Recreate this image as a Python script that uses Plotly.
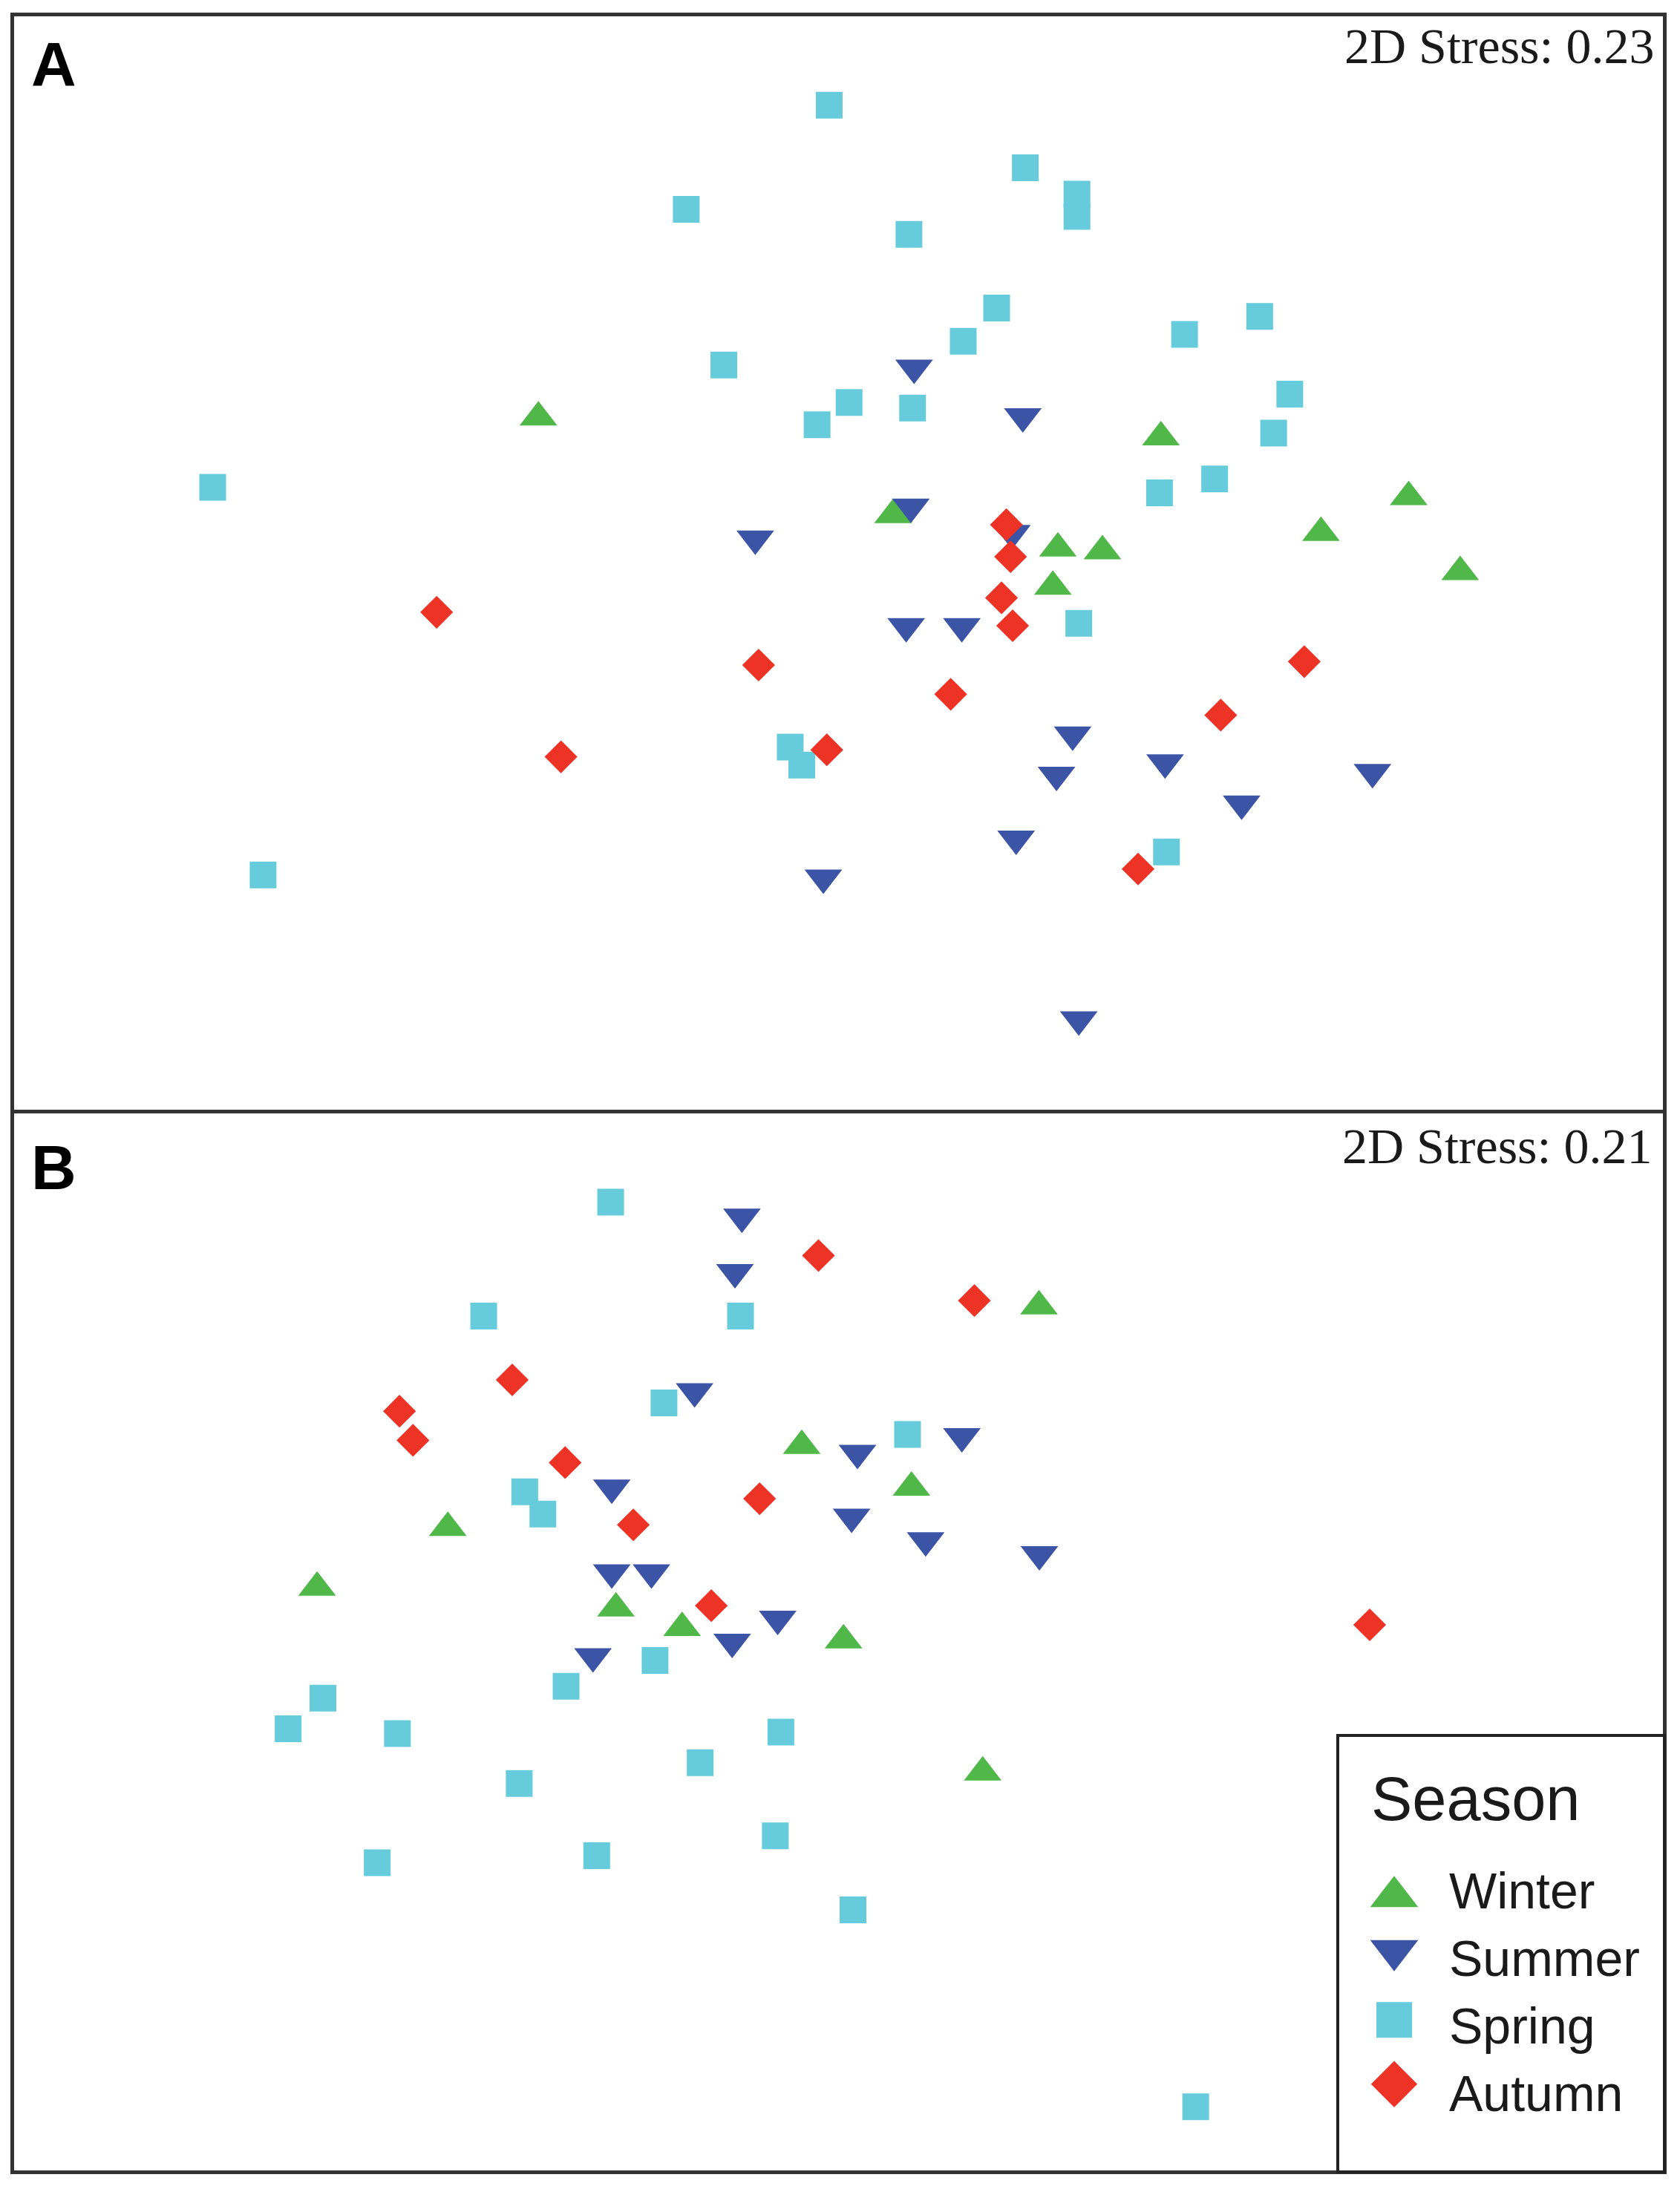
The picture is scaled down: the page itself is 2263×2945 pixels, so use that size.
import plotly.graph_objects as go

# ---------------- data (NMDS ordination coordinates) -------------
seasons = ["Winter", "Summer", "Spring", "Autumn"]
colors = {"Winter": "#50B848", "Summer": "#3B54A5", "Spring": "#66CBDB", "Autumn": "#EC3325"}
symbols = {"Winter": "triangle-up", "Summer": "triangle-up", "Spring": "square", "Autumn": "diamond"}
angles = {"Winter": 0, "Summer": 180, "Spring": 0, "Autumn": 0}

# Panel A
A_winter_x = [386.8, 641.6, 760, 792, 756.4, 834, 949, 1012, 1049]
A_winter_y = [294.8, 365, 389, 391, 416.6, 309, 377.8, 352, 406]
A_summer_x = [656.7, 734.8, 654.4, 542.6, 727, 651, 691, 770.6, 759, 837, 986, 892, 730, 591.5, 775]
A_summer_y = [265, 300, 365, 388, 384, 451, 451, 529, 558, 549, 556, 578.7, 604, 632, 734]
A_spring_x = [595.7, 736.6, 773.7, 773.7, 493, 653, 716, 692, 851, 905, 520, 610, 587, 655.6,
              926.6, 915, 833, 872.6, 152.8, 775, 567.7, 576, 838, 189]
A_spring_y = [73, 118, 137, 153, 148, 166, 219, 243, 238, 225, 260, 287, 303, 291,
              281, 309, 352, 342, 348, 446, 535, 548, 610.5, 627]
A_autumn_x = [313.7, 723, 726, 719.5, 727.5, 545, 683, 937, 877, 403, 594, 817.6]
A_autumn_y = [438, 375, 398, 427.6, 447.7, 476, 497, 473.5, 512, 542, 537, 622.8]

# Panel B
B_winter_x = [576, 654.8, 321.7, 227.8, 442.5, 490, 606, 746.4, 706]
B_winter_y = [1035, 1065, 1094, 1137, 1152, 1166, 1175, 934.5, 1270]
B_summer_x = [533, 528, 499, 439.5, 439.5, 468, 558.7, 526, 426, 616, 691, 611.8, 665, 746.7]
B_summer_y = [876, 916, 1001.7, 1071, 1132, 1132, 1165.5, 1182, 1192.5, 1046, 1034, 1092, 1109, 1119]
B_spring_x = [438.7, 347.5, 532, 477, 652, 377, 390, 470.6, 406.7, 232, 207, 285.5, 561, 503,
              373, 557, 271, 428.7, 612.8, 859]
B_spring_y = [862.6, 944.6, 944.6, 1007, 1029.7, 1071, 1087, 1192.5, 1211, 1219.5, 1241.6, 1245,
              1244, 1266, 1281, 1318.7, 1338, 1333, 1372, 1513.7]
B_autumn_x = [588, 368, 287, 296.7, 406, 545.7, 455, 511, 700, 984]
B_autumn_y = [901, 990.5, 1013, 1034, 1050, 1076, 1094.8, 1153, 933.4, 1166.8]

panel_labels = ["A", "B"]
stress_labels = ["2D Stress: 0.23", "2D Stress: 0.21"]
legend_title = "Season"

panels = {
    "A": {"Winter": (A_winter_x, A_winter_y), "Summer": (A_summer_x, A_summer_y),
          "Spring": (A_spring_x, A_spring_y), "Autumn": (A_autumn_x, A_autumn_y)},
    "B": {"Winter": (B_winter_x, B_winter_y), "Summer": (B_summer_x, B_summer_y),
          "Spring": (B_spring_x, B_spring_y), "Autumn": (B_autumn_x, B_autumn_y)},
}

# ---------------- layout geometry (page pixels; the page body has an 8px margin) --------
BODY = 8
X0, X1 = 19, 2240                       # plot area left/right (page px)
Y0, YA, YB, Y1 = 17, 1493, 1498, 2924   # A top, A bottom, B top, B bottom
PW, PH = X1 - X0, Y1 - Y0
W, H = 2247, 2929
ML, MT = X0 - BODY, Y0 - BODY
MR, MB = W - ML - PW, H - MT - PH
S = 1.875                  # page px per data unit

def px(v):
    return (v - X0) / PW

def py(v):
    return 1 - (v - Y0) / PH

sizes = {"Winter": 44, "Summer": 44, "Spring": 36, "Autumn": 34}
leg_sizes = {"Winter": 56, "Summer": 56, "Spring": 48, "Autumn": 48}

def standoff(s, size):
    # centre the triangle's bounding box on the point
    return size / 8 if symbols[s].startswith("triangle") else 0

fig = go.Figure()
for pname, axs in [("A", ("x", "y")), ("B", ("x2", "y2"))]:
    for s in seasons:
        xs, ys = panels[pname][s]
        fig.add_trace(go.Scatter(
            x=xs, y=ys, mode="markers", name=s, showlegend=False,
            xaxis=axs[0], yaxis=axs[1],
            marker=dict(symbol=symbols[s], size=sizes[s], color=colors[s], line=dict(width=0),
                        angle=angles[s], standoff=standoff(s, sizes[s])),
            hoverinfo="skip"))

# legend drawn inside its own small axis (pixel units)
leg_left, leg_top = 1804, 2339
leg_w, leg_h = X1 - leg_left, Y1 - leg_top
sym_x, txt_x = 74, 146
sym_y0, sym_dy = 208.5, 86.7
txt_y0, txt_dy = 207.5, 91
for i, s in enumerate(seasons):
    fig.add_trace(go.Scatter(
        x=[sym_x], y=[sym_y0 + i * sym_dy], mode="markers", showlegend=False,
        xaxis="x3", yaxis="y3", hoverinfo="skip",
        marker=dict(symbol=symbols[s], size=leg_sizes[s], color=colors[s], line=dict(width=0),
                    angle=angles[s], standoff=standoff(s, leg_sizes[s]))))

frame = dict(showline=True, mirror=True, linecolor="#333333", linewidth=5,
             showgrid=False, zeroline=False, showticklabels=False, ticks="", fixedrange=True)
lframe = {**frame, "linewidth": 4, "linecolor": "#222222"}

fig.update_layout(
    width=W, height=H,
    margin=dict(l=ML, r=MR, t=MT, b=MB),
    paper_bgcolor="white", plot_bgcolor="white",
    xaxis=dict(domain=[0, 1], range=[X0 / S, X1 / S], anchor="y", **frame),
    yaxis=dict(domain=[py(YA), 1], range=[YA / S, Y0 / S], anchor="x", **frame),
    xaxis2=dict(domain=[0, 1], range=[X0 / S, X1 / S], anchor="y2", **frame),
    yaxis2=dict(domain=[0, py(YB)], range=[Y1 / S, YB / S], anchor="x2", **frame),
    xaxis3=dict(domain=[px(leg_left), 1], range=[0, leg_w], anchor="y3", **lframe),
    yaxis3=dict(domain=[0, py(leg_top)], range=[leg_h, 0], anchor="x3", **lframe),
    showlegend=False,
)

ann = []
letter_tops = [33, 1522]
stress_tops = [17, 1502]
stress_right = [2230, 2227]
for i in range(2):
    ann.append(dict(text=panel_labels[i], xref="paper", yref="paper",
                    x=px(40), y=py(letter_tops[i]),
                    xanchor="left", yanchor="top", showarrow=False,
                    font=dict(family="Liberation Sans", size=84, color="black", weight="bold")))
    ann.append(dict(text=stress_labels[i], xref="paper", yref="paper",
                    x=px(stress_right[i]), y=py(stress_tops[i]),
                    xanchor="right", yanchor="top", showarrow=False,
                    font=dict(family="Liberation Serif", size=68, color="#1a1a1a")))
ann.append(dict(text=legend_title, xref="x3", yref="y3", x=41, y=84,
                xanchor="left", yanchor="middle", showarrow=False,
                font=dict(family="Liberation Sans", size=83, color="#1a1a1a")))
for i, s in enumerate(seasons):
    ann.append(dict(text=s, xref="x3", yref="y3", x=txt_x, y=txt_y0 + i * txt_dy,
                    xanchor="left", yanchor="middle", showarrow=False,
                    font=dict(family="Liberation Sans", size=68, color="#1a1a1a")))
fig.update_layout(annotations=ann)

fig.write_html("out.html")
